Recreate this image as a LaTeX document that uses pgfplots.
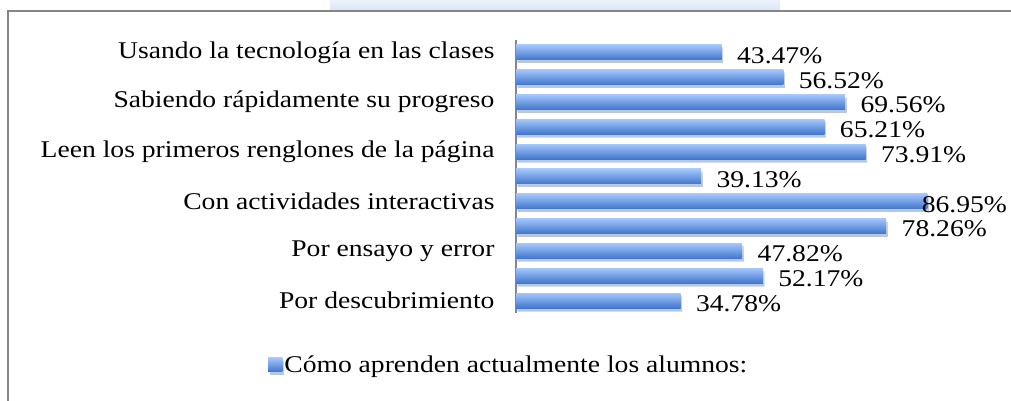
\documentclass[border=0pt]{standalone}
\usepackage{pgfplots}
\pgfplotsset{compat=1.18}
\usepackage{fontspec}
\setmainfont{Liberation Serif}[FakeStretch=1.15]
\usetikzlibrary{shadows}
\definecolor{barTop}{RGB}{163,198,252}
\definecolor{barMid}{RGB}{140,181,243}
\definecolor{barBot}{RGB}{64,118,204}
\definecolor{frameGray}{RGB}{134,134,134}
\newcommand\lbl{\fontsize{24}{29}\selectfont}
\pgfplotsset{
  onebar/.style={xbar, bar shift=0pt, bar width=15pt, draw=none, point meta=x,
    top color=barTop, middle color=barMid, bottom color=barBot,
    drop shadow={opacity=0.25, shadow xshift=1.5pt, shadow yshift=-3pt}},
}
% one \addplot per bar so that each bar gets its own gradient
\newcommand\onebar[3][]{\addplot[onebar,#1] coordinates {(#2,#3)};}
\begin{document}
\begin{tikzpicture}
\useasboundingbox (0,0) rectangle (1011pt,401pt);
% faint background watermark above the frame
\shade[top color={rgb,255:red,236;green,242;blue,251}, bottom color={rgb,255:red,218;green,230;blue,247}]
  (330pt,391pt) rectangle (780pt,401pt);
% chart frame (right and bottom edges are cut off)
\draw[frameGray, line width=2pt] (8pt,0pt) -- (8pt,390pt) -- (1011pt,390pt);
\begin{axis}[
  at={(516pt,88pt)}, anchor=south west,
  scale only axis, width=473pt, height=273pt,
  xmin=0, xmax=100, ymin=-0.5, ymax=10.5,
  axis x line=none, axis y line=left,
  y axis line style={-, draw=frameGray, line width=1.5pt},
  ytick={0,2,4,6,8,10},
  yticklabels={Por descubrimiento, Por ensayo y error, Con actividades interactivas,
    Leen los primeros renglones de la página, Sabiendo rápidamente su progreso,
    Usando la tecnología en las clases},
  major tick length=0pt,
  yticklabel style={font=\lbl, xshift=-18pt},
  nodes near coords={\pgfmathprintnumber[fixed,zerofill,precision=2]{\pgfplotspointmeta}\%},
  every node near coord/.append style={font=\lbl, anchor=west, xshift=12pt, yshift=-3pt},
  /pgf/number format/assume math mode=true,
  legend style={at={(-0.524,-0.19)}, anchor=west, draw=none, fill=none,
    inner sep=0pt, font=\lbl},
  legend image code/.code={\fill[top color=barTop, bottom color=barBot]
    (0pt,-7pt) rectangle (14pt,7pt);},
]
\onebar{34.78}{0}
\addlegendentry{Cómo aprenden actualmente los alumnos:}
\onebar[forget plot]{52.17}{1}
\onebar[forget plot]{47.82}{2}
\onebar[forget plot]{78.26}{3}
\onebar[forget plot, every node near coord/.append style={xshift=-21pt}]{86.95}{4}
\onebar[forget plot]{39.13}{5}
\onebar[forget plot]{73.91}{6}
\onebar[forget plot]{65.21}{7}
\onebar[forget plot]{69.56}{8}
\onebar[forget plot]{56.52}{9}
\onebar[forget plot]{43.47}{10}
\end{axis}
\end{tikzpicture}
\end{document}
